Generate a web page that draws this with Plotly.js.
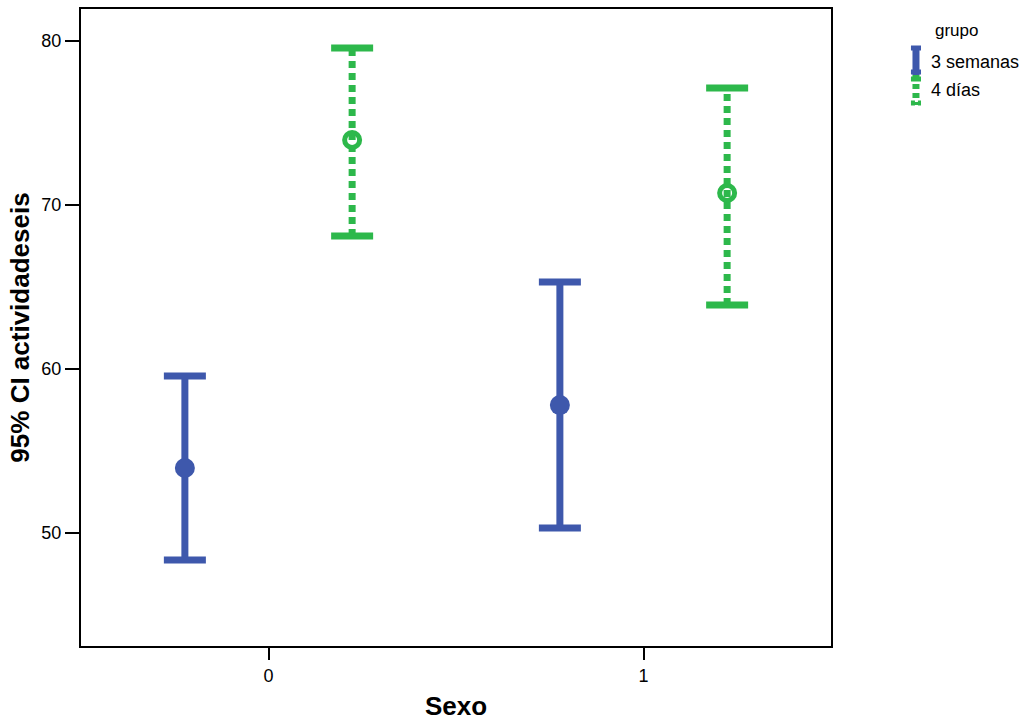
<!DOCTYPE html>
<html>
<head>
<meta charset="utf-8">
<script src="https://cdn.plot.ly/plotly-3.0.1.min.js"></script>
<style>html,body{margin:0;padding:0;background:#fff;}#chart{width:1028px;height:721px;}</style>
</head>
<body>
<div id="chart"></div>
<script>
// Data
var sexo = [0, 1];
var groups = ["3 semanas", "4 días"];
var meanSemanas = [53.96, 57.80];
var lowerSemanas = [48.35, 50.30];
var upperSemanas = [59.57, 65.30];
var meanDias = [73.96, 70.73];
var lowerDias = [68.11, 63.90];
var upperDias = [79.57, 77.13];
var yTicks = [50, 60, 70, 80];

var blue = "rgb(62,88,172)";
var green = "rgb(45,184,75)";
var offsets = [-0.223, 0.223];
var capHalf = 0.056;

function buildGroup(mean, lo, hi, off, color, dashed, markerCfg) {
  var vx = [], vy = [], cx = [], cy = [], mx = [];
  for (var i = 0; i < sexo.length; i++) {
    var xc = sexo[i] + off;
    vx.push(xc, xc, null); vy.push(lo[i], hi[i], null);
    cx.push(xc - capHalf, xc + capHalf, null); cy.push(hi[i], hi[i], null);
    cx.push(xc - capHalf, xc + capHalf, null); cy.push(lo[i], lo[i], null);
    mx.push(xc);
  }
  return [
    {x: vx, y: vy, mode: "lines", line: {color: color, width: 7, dash: dashed ? "7px,5px" : "solid"}, showlegend: false, hoverinfo: "skip"},
    {x: cx, y: cy, mode: "lines", line: {color: color, width: 7}, showlegend: false, hoverinfo: "skip"},
    {x: mx, y: mean, mode: "markers", marker: markerCfg, showlegend: false}
  ];
}

var traces = [].concat(
  buildGroup(meanSemanas, lowerSemanas, upperSemanas, offsets[0], blue, false, {symbol: "circle", size: 20, color: blue}),
  buildGroup(meanDias, lowerDias, upperDias, offsets[1], green, true, {symbol: "circle-open", size: 15, color: green, line: {width: 5, color: green}})
);

var font = "Liberation Sans, Arial, sans-serif";
var layout = {
  width: 1028, height: 721,
  margin: {l: 81, r: 197, t: 9, b: 75},
  paper_bgcolor: "#fff", plot_bgcolor: "#fff",
  showlegend: false,
  font: {family: font, color: "#000"},
  xaxis: {
    range: [-0.5, 1.5], tickvals: sexo, ticktext: sexo.map(String),
    showgrid: false, zeroline: false, showline: true, mirror: true, linecolor: "#000", linewidth: 2,
    ticks: "outside", ticklen: 12, tickwidth: 2, tickcolor: "#000",
    tickfont: {size: 18, family: font},
    title: {text: "<b>Sexo</b>", font: {size: 26, family: font}, standoff: 14}
  },
  yaxis: {
    range: [43.11, 81.95], tickvals: yTicks, ticktext: yTicks.map(String),
    showgrid: false, zeroline: false, showline: true, mirror: true, linecolor: "#000", linewidth: 2,
    ticks: "outside", ticklen: 14, tickwidth: 2, tickcolor: "#000",
    tickfont: {size: 18, family: font},
    title: {text: "<b>95% CI actividadeseis</b>", font: {size: 26, family: font}, standoff: 4}
  },
  annotations: [
    {xref: "paper", yref: "paper", x: 1.136, y: 1.0, xanchor: "left", yanchor: "middle", text: "grupo", showarrow: false, font: {size: 17, family: font}, yshift: -21},
    {xref: "paper", yref: "paper", x: 1.131, y: 1.0, xanchor: "left", yanchor: "middle", text: groups[0], showarrow: false, font: {size: 18, family: font}, yshift: -53},
    {xref: "paper", yref: "paper", x: 1.131, y: 1.0, xanchor: "left", yanchor: "middle", text: groups[1], showarrow: false, font: {size: 18, family: font}, yshift: -81}
  ],
  shapes: [
    {type: "line", xref: "paper", yref: "paper", x0: 1.1133, x1: 1.1133, y0: 1 - 37/637, y1: 1 - 66/637, line: {color: blue, width: 7}},
    {type: "line", xref: "paper", yref: "paper", x0: 1.1066, x1: 1.12, y0: 1 - 39/637, y1: 1 - 39/637, line: {color: blue, width: 5}},
    {type: "line", xref: "paper", yref: "paper", x0: 1.1066, x1: 1.12, y0: 1 - 63/637, y1: 1 - 63/637, line: {color: blue, width: 5}},
    {type: "line", xref: "paper", yref: "paper", x0: 1.1133, x1: 1.1133, y0: 1 - 66/637, y1: 1 - 96/637, line: {color: green, width: 7, dash: "5px,4px"}},
    {type: "line", xref: "paper", yref: "paper", x0: 1.1066, x1: 1.12, y0: 1 - 70/637, y1: 1 - 70/637, line: {color: green, width: 5}},
    {type: "line", xref: "paper", yref: "paper", x0: 1.1066, x1: 1.12, y0: 1 - 94/637, y1: 1 - 94/637, line: {color: green, width: 5, dash: "4px,3px"}}
  ]
};

Plotly.newPlot("chart", traces, layout, {displayModeBar: false, staticPlot: true});
</script>
</body>
</html>
